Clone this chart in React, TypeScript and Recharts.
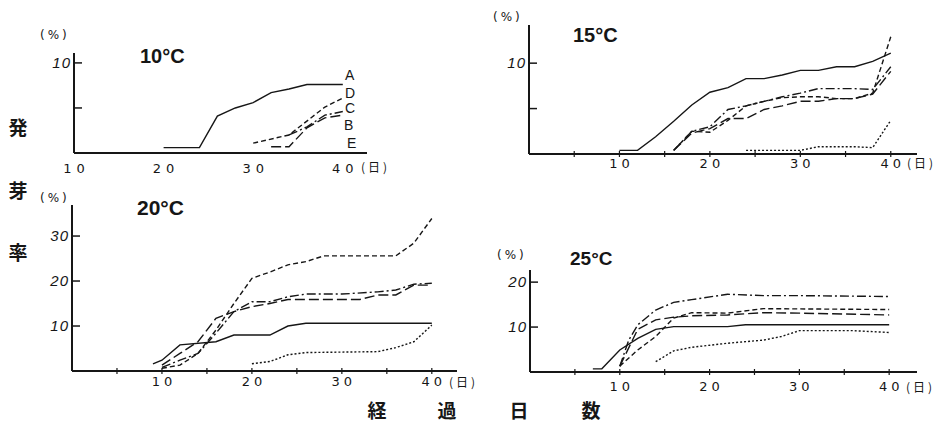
import React from 'react'
import { LineChart, Line, XAxis, YAxis } from 'recharts'

type Pt = [number, number]

// 10°C
const t10A: Pt[] = [[20, 0.6], [24, 0.6], [26, 4.1], [28, 5.0], [30, 5.6], [32, 6.7], [34, 7.1], [36, 7.6], [40, 7.6]]
const t10B: Pt[] = [[32, 0.7], [34, 0.7], [36, 2.8], [38, 3.9], [40, 4.2]]
const t10C: Pt[] = [[34, 2.0], [36, 2.9], [38, 4.2], [40, 4.6]]
const t10D: Pt[] = [[30, 1.1], [34, 2.0], [38, 5.1], [40, 6.1]]

// 15°C
const t15A: Pt[] = [[10, 0.4], [12, 0.4], [14, 1.9], [16, 3.6], [18, 5.4], [20, 6.8], [22, 7.3], [24, 8.3], [26, 8.3], [28, 8.7], [30, 9.2], [32, 9.2], [34, 9.6], [36, 9.6], [38, 10.2], [40, 11.1]]
const t15B: Pt[] = [[16, 0.4], [18, 2.3], [20, 2.8], [22, 3.9], [24, 3.9], [26, 4.9], [28, 5.3], [30, 5.8], [32, 5.8], [34, 6.1], [36, 6.1], [38, 6.6], [40, 9.1]]
const t15C: Pt[] = [[16, 0.4], [18, 2.5], [20, 3.0], [22, 4.9], [24, 5.3], [26, 5.8], [28, 6.3], [30, 6.7], [32, 7.2], [36, 7.2], [38, 7.1], [40, 9.6]]
const t15D: Pt[] = [[16, 0.4], [18, 2.5], [20, 2.4], [22, 3.7], [24, 5.3], [26, 5.8], [28, 6.2], [30, 6.3], [32, 6.3], [34, 6.1], [36, 6.1], [38, 6.7], [40, 12.9]]
const t15E: Pt[] = [[24, 0.4], [30, 0.4], [32, 0.8], [36, 0.8], [38, 0.7], [40, 3.7]]

// 20°C
const t20A: Pt[] = [[9, 1.6], [10, 2.4], [12, 5.8], [16, 6.5], [18, 8.0], [22, 8.0], [24, 10.0], [26, 10.6], [40, 10.6]]
const t20B: Pt[] = [[10, 1.3], [12, 3.9], [14, 6.5], [16, 11.7], [18, 13.2], [20, 14.3], [22, 15.0], [24, 15.9], [32, 15.9], [34, 16.9], [36, 16.9], [38, 19.1], [40, 19.1]]
const t20C: Pt[] = [[10, 0.8], [12, 2.4], [14, 3.9], [16, 8.4], [18, 13.2], [20, 15.4], [22, 15.4], [24, 16.5], [26, 17.1], [30, 17.1], [34, 17.6], [36, 18.0], [38, 19.3], [40, 19.5]]
const t20D: Pt[] = [[10, 0.6], [12, 1.3], [14, 3.9], [16, 9.1], [18, 15.0], [20, 20.6], [22, 22.0], [24, 23.6], [26, 24.3], [28, 25.6], [36, 25.6], [38, 28.4], [40, 33.9]]
const t20E: Pt[] = [[20, 1.6], [22, 2.1], [24, 3.6], [26, 4.1], [34, 4.3], [36, 5.2], [38, 6.5], [40, 10.2]]

// 25°C
const t25A: Pt[] = [[7, 0.7], [8, 0.7], [10, 4.9], [12, 7.5], [14, 9.5], [16, 10.1], [22, 10.1], [24, 10.5], [40, 10.5]]
const t25B: Pt[] = [[10, 1.3], [12, 9.5], [14, 11.6], [16, 12.2], [18, 12.5], [22, 12.7], [26, 13.2], [30, 13.1], [40, 12.7]]
const t25C: Pt[] = [[10, 1.3], [11, 7.1], [12, 10.5], [14, 13.8], [16, 15.5], [18, 16.1], [22, 17.3], [26, 17.0], [30, 17.0], [40, 16.8]]
const t25D: Pt[] = [[10, 1.3], [12, 4.9], [14, 7.9], [16, 12.0], [18, 13.2], [22, 13.1], [26, 14.1], [40, 13.9]]
const t25E: Pt[] = [[14, 2.3], [16, 4.7], [18, 5.5], [22, 6.4], [26, 7.1], [28, 7.9], [30, 9.2], [36, 9.2], [40, 8.8]]

const ticks10x = [10, 20, 30, 40]
const ticks5x = [5, 10, 15, 20, 25, 30, 35, 40]

const ink = '#161616'
const dashes: Record<string, string | undefined> = {
  A: undefined,
  B: '10 4',
  C: '9 3 2 3',
  D: '5 3',
  E: '2 2',
}

interface PanelProps {
  box: [number, number, number, number]
  plot: [number, number, number, number]
  xDomain: [number, number]
  xTicks: number[]
  marks: boolean
  labelDy: number
  spacing: number
  yDomain: [number, number]
  yTicks: number[]
  yLabels: number[]
  series: [string, Pt[]][]
}

function Panel({ box, plot, xDomain, xTicks, marks, labelDy, spacing, yDomain, yTicks, yLabels, series }: PanelProps) {
  const [L, T, W, H] = box
  const [x0, x1, y0, y1] = plot
  const axisX = x0 - L
  const axisY = y1 - T

  const xTick = (p: any) => {
    const v = p.payload.value
    return (
      <g>
        {marks && <line x1={p.x} x2={p.x} y1={axisY - 3} y2={axisY + 3} stroke={ink} strokeWidth={1.2} />}
        {v % 10 === 0 && (
          <text x={p.x + spacing / 2} y={axisY + labelDy} textAnchor="middle" fontSize={13} letterSpacing={spacing}
            fill={ink} fontFamily="DejaVu Sans">{v}</text>
        )}
      </g>
    )
  }

  const yTick = (p: any) => {
    const v = p.payload.value
    return (
      <g>
        <line x1={axisX - 1} x2={axisX + 8} y1={p.y} y2={p.y} stroke={ink} strokeWidth={1.5} />
        {yLabels.includes(v) && (
          <text x={axisX - 3} y={p.y + 5} textAnchor="end" fontSize={15} fontStyle="italic" letterSpacing={1}
            fill={ink} fontFamily="Liberation Sans">{v}</text>
        )}
      </g>
    )
  }

  return (
    <div style={{ position: 'absolute', left: L, top: T, width: W, height: H }}>
      <LineChart width={W} height={H} margin={{ top: y0 - T, right: L + W - x1, left: 0, bottom: T + H - y1 - 30 }}>
        <XAxis type="number" dataKey="x" domain={xDomain} ticks={xTicks} interval={0} allowDataOverflow
          height={30} axisLine={{ stroke: ink, strokeWidth: 2 }} tickLine={false} tick={xTick} />
        <YAxis type="number" domain={yDomain} ticks={yTicks} interval={0} allowDataOverflow
          width={axisX} axisLine={{ stroke: ink, strokeWidth: 2 }} tickLine={false} tick={yTick} />
        {series.map(([key, pts]) => (
          <Line key={key} data={pts.map(([x, y]) => ({ x, y }))} dataKey="y" type="linear"
            stroke={ink} strokeWidth={1.4} strokeDasharray={dashes[key]} dot={false}
            isAnimationActive={false} />
        ))}
      </LineChart>
    </div>
  )
}

const sans = 'Liberation Sans'
const cjk = 'Noto Sans CJK JP'

export default function App() {
  return (
    <div style={{ position: 'absolute', left: 0, top: 0, width: 945, height: 427, background: '#fff', overflow: 'hidden' }}>
      <Panel box={[0, 20, 420, 170]} plot={[74, 367, 53, 153]} xDomain={[10, 42.7]} xTicks={ticks10x}
        marks={false} labelDy={20} spacing={5} yDomain={[0, 11.1]} yTicks={[5, 10]} yLabels={[10]}
        series={[['A', t10A], ['B', t10B], ['C', t10C], ['D', t10D]]} />
      <Panel box={[470, 0, 475, 190]} plot={[529, 917, 25, 154]} xDomain={[0, 42.9]} xTicks={ticks5x}
        marks labelDy={14} spacing={4} yDomain={[0, 14.2]} yTicks={[5, 10]} yLabels={[10]}
        series={[['A', t15A], ['B', t15B], ['C', t15C], ['D', t15D], ['E', t15E]]} />
      <Panel box={[0, 190, 470, 215]} plot={[72, 457, 205, 371]} xDomain={[0, 42.8]} xTicks={ticks5x}
        marks labelDy={15} spacing={4} yDomain={[0, 36.9]} yTicks={[10, 20, 30]} yLabels={[10, 20, 30]}
        series={[['A', t20A], ['B', t20B], ['C', t20C], ['D', t20D], ['E', t20E]]} />
      <Panel box={[470, 240, 475, 165]} plot={[530, 917, 270, 372]} xDomain={[0, 43.1]} xTicks={ticks5x}
        marks labelDy={19} spacing={4} yDomain={[0, 22.7]} yTicks={[10, 20]} yLabels={[10, 20]}
        series={[['A', t25A], ['B', t25B], ['C', t25C], ['D', t25D], ['E', t25E]]} />

      <svg width={945} height={427} style={{ position: 'absolute', left: 0, top: 0, pointerEvents: 'none' }}>
        <g fill={ink} fontFamily={sans} fontWeight="bold">
          <text x={140} y={63} fontSize={20}>10°C</text>
          <text x={573} y={42} fontSize={20}>15°C</text>
          <text x={137} y={215} fontSize={21}>20°C</text>
          <text x={570} y={265} fontSize={19}>25°C</text>
        </g>
        <g fill={ink} fontFamily="DejaVu Sans" fontSize={12} letterSpacing={3}>
          <text x={40} y={39}>(%)</text>
          <text x={493} y={21}>(%)</text>
          <text x={40} y={202}>(%)</text>
          <text x={497} y={259}>(%)</text>
        </g>
        <g fill={ink} fontFamily={cjk} fontSize={12} letterSpacing={3}>
          <text x={361} y={172}>(日)</text>
          <text x={907} y={168}>(日)</text>
          <text x={449} y={387}>(日)</text>
          <text x={906} y={392}>(日)</text>
        </g>
        <g fill={ink} fontFamily={sans} fontSize={14}>
          <text x={345} y={80}>A</text>
          <text x={345} y={98}>D</text>
          <text x={345} y={113}>C</text>
          <text x={344} y={130}>B</text>
          <text x={347} y={148}>E</text>
        </g>
        <g fill={ink} fontFamily={cjk} fontSize={19} fontWeight="bold" textAnchor="middle">
          <text x={18} y={135}>発</text>
          <text x={18} y={198}>芽</text>
          <text x={18} y={260}>率</text>
          <text x={377} y={418}>経</text>
          <text x={447} y={418}>過</text>
          <text x={519} y={418}>日</text>
          <text x={591} y={418}>数</text>
        </g>
      </svg>
    </div>
  )
}
